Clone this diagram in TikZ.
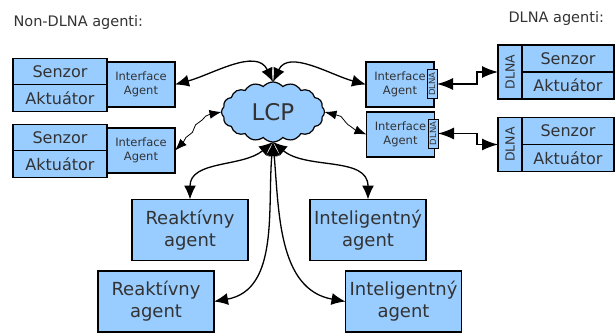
\documentclass[tikz,border=0pt]{standalone}
\usepackage{fontspec}
\setmainfont{DejaVu Sans}
\usepackage{xcolor}
\usepackage{tikz}
\usetikzlibrary{shapes.symbols, positioning, arrows.meta, decorations.pathmorphing}

\definecolor{agentblue}{HTML}{99CCFF}
\definecolor{agenttext}{HTML}{333333}

\begin{document}
\begin{tikzpicture}[
        x=1pt, y=1pt,
        % --- Shared look of every box ---
        box/.style={
            draw, fill=agentblue, text=agenttext,
            line width=1.2pt, inner sep=0pt, outer sep=0pt,
            align=center
        },
        part/.style={box, minimum width=94pt, minimum height=26.5pt,
            font=\fontsize{16}{18}\selectfont},
        iface/.style={box, minimum width=68pt, minimum height=45pt,
            font=\fontsize{11.5}{13.5}\selectfont},
        dlnastrip/.style={box, minimum width=24pt, minimum height=54pt,
            font=\fontsize{12.5}{14}\selectfont},
        dlnatag/.style={box, line width=1pt, minimum width=10pt, minimum height=29pt,
            font=\fontsize{8.5}{10}\selectfont},
        agent/.style={box, minimum width=116pt, minimum height=61pt,
            font=\fontsize{18}{22}\selectfont},
        title/.style={anchor=west, text=agenttext, font=\fontsize{14.5}{16}\selectfont},
        % --- Connectors ---
        link/.style={{Latex[length=14pt,width=12pt]}-{Latex[length=14pt,width=12pt]}, line width=1.3pt},
        plug/.style={{Latex[length=16pt,width=12pt]}-{Latex[length=16pt,width=12pt]}, line width=1.3pt},
        wiggle/.style={{Latex[length=12pt,width=9pt]}-{Latex[length=12pt,width=9pt]}, line width=0.8pt,
            decorate, decoration={snake, amplitude=1pt, segment length=16pt, pre length=12pt, post length=12pt}}
    ]
    \useasboundingbox (0,0) rectangle (616,333);

    % ==================== 1. TITLES ====================
    \node[title] (nondlna) at (10, 311) {Non-DLNA agenti:};
    \node[title] (dlna)    at (505, 315) {DLNA agenti:};

    % ==================== 2. NON-DLNA AGENTS (left) ====================
    \node[part] (sen1) at (60, 261.5) {Senzor};
    \node[part, below=0pt of sen1] (akt1) {Aktuátor};
    \node[iface] (ia1) at (141, 248.5) {Interface\\Agent};

    \node[part] (sen2) at (60, 195.5) {Senzor};
    \node[part, below=0pt of sen2] (akt2) {Aktuátor};
    \node[iface] (ia2) at (141, 182.5) {Interface\\Agent};

    % ==================== 3. LCP CLOUD ====================
    \node[box, cloud, cloud puffs=16, cloud puff arc=100, aspect=1.7,
          minimum width=103pt, minimum height=60pt,
          font=\fontsize{23}{26}\selectfont] (lcp) at (273, 221) {LCP};

    % ==================== 4. DLNA AGENTS (right) ====================
    \node[iface] (ia3) at (400, 248.5) {Interface\\Agent\hspace{8pt}};
    \node[dlnatag] (dl3) at (432, 249) {\rotatebox{90}{DLNA}};
    \node[iface] (ia4) at (400.5, 198.5) {Interface\\Agent\hspace{8pt}};
    \node[dlnatag] (dl4) at (433, 199.5) {\rotatebox{90}{DLNA}};

    \node[dlnastrip] (str1) at (510, 261) {\rotatebox{90}{DLNA}};
    \node[part, minimum width=92pt, minimum height=27pt, anchor=north west] (sen3) at (str1.north east) {Senzor};
    \node[part, minimum width=92pt, minimum height=27pt, below=0pt of sen3] (akt3) {Aktuátor};

    \node[dlnastrip] (str2) at (510, 188.5) {\rotatebox{90}{DLNA}};
    \node[part, minimum width=92pt, minimum height=27pt, anchor=north west] (sen4) at (str2.north east) {Senzor};
    \node[part, minimum width=92pt, minimum height=27pt, below=0pt of sen4] (akt4) {Aktuátor};

    % ==================== 5. AGENTS (bottom) ====================
    \node[agent] (reak1)  at (190, 103)   {Reaktívny\\agent};
    \node[agent] (intel1) at (368, 103)   {Inteligentný\\agent};
    \node[agent] (reak2)  at (156, 31.5)  {Reaktívny\\agent};
    \node[agent] (intel2) at (403.5, 31.5) {Inteligentný\\agent};

    % ==================== 6. CONNECTIONS ====================
    % Interface agents to the cloud
    \draw[link] (ia1.east) to[out=15, in=115] (lcp.north);
    \draw[link] (lcp.north) to[out=65, in=165] (ia3.west);
    \draw[wiggle] (ia2.east) to[out=40, in=180] (lcp.west);
    \draw[wiggle] (lcp.east) to[out=0, in=170] (ia4.west);

    % Cloud down to the agents
    \draw[link] (lcp.south) to[out=-140, in=90] (reak1.north);
    \draw[link] (lcp.south) to[out=-40, in=90]  (intel1.north);
    \draw[link] (lcp.south) to[out=-95, in=10]  (reak2.east);
    \draw[link] (lcp.south) to[out=-85, in=170] (intel2.west);

    % DLNA plugs
    \draw[plug] (dl3.east) -| ([xshift=-21pt]str1.west) -- (str1.west);
    \draw[plug] (dl4.east) -| ([xshift=-21pt]str2.west) -- (str2.west);

\end{tikzpicture}
\end{document}
